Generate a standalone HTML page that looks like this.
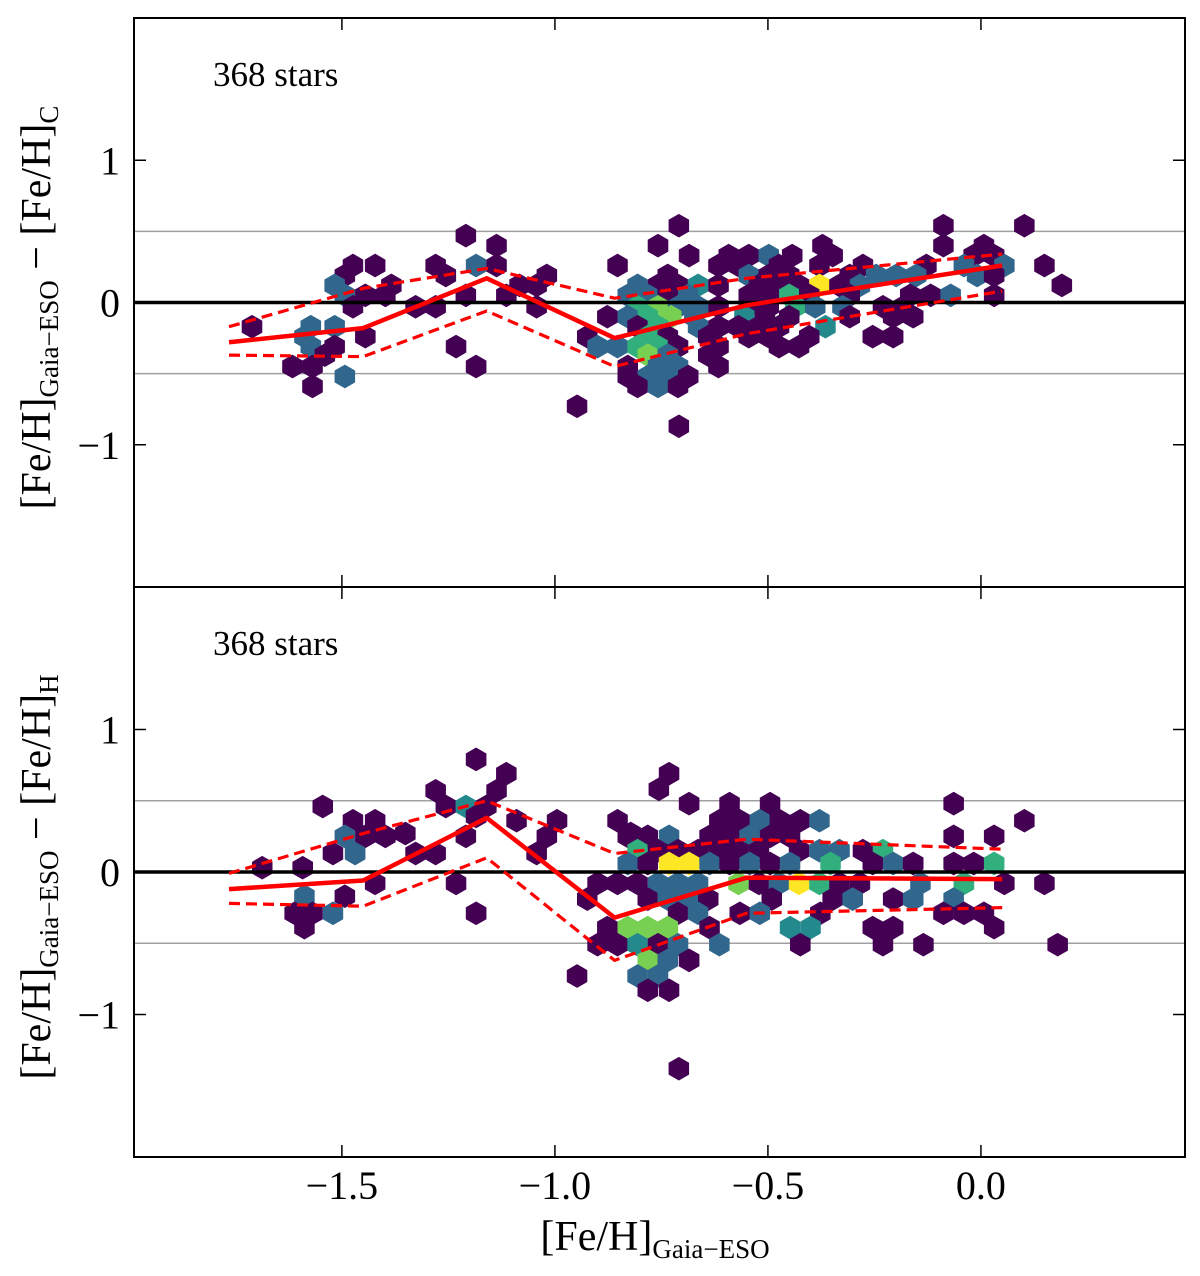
<!DOCTYPE html>
<html><head><meta charset="utf-8">
<style>
html,body{margin:0;padding:0;background:#fff;}
svg{display:block;font-family:"Liberation Serif",serif;}
</style></head>
<body>
<svg id="chart" width="1200" height="1276" viewBox="0 0 1200 1276" xmlns="http://www.w3.org/2000/svg"></svg>
<script>
// ---------- data ----------
const xTicks = [-1.5, -1.0, -0.5, 0.0];
const xTickLabels = ["\u22121.5", "\u22121.0", "\u22120.5", "0.0"];
const yTicks = [1, 0, -1];
const yTickLabels = ["1", "0", "\u22121"];
const starCount = "368 stars";

// bin centres for running median lines
const binX = [-1.765, -1.45, -1.16, -0.86, -0.55, 0.05];
const topMedian = [-0.28, -0.18, 0.17, -0.25, -0.02, 0.26];
const topUpper  = [-0.17, 0.10, 0.24, 0.03, 0.17, 0.34];
const topLower  = [-0.37, -0.38, -0.06, -0.45, -0.22, 0.08];
const botMedian = [-0.12, -0.06, 0.38, -0.32, -0.04, -0.05];
const botUpper  = [-0.01, 0.27, 0.50, 0.13, 0.23, 0.16];
const botLower  = [-0.22, -0.24, 0.10, -0.62, -0.29, -0.25];

// hexbin cells, organised by rows (y), x values and counts
const topRowY = [0.54,0.47,0.40,0.33,0.26,0.19,0.12,0.05,-0.03,-0.10,-0.17,-0.24,-0.31,-0.37,-0.45,-0.52,-0.59,-0.73,-0.87];
const topRowX = [
 [-0.709,-0.088,0.102],
 [-1.209],
 [-1.137,-0.758,-0.372,-0.088,0.007],
 [-0.685,-0.592,-0.545,-0.498,-0.443,-0.348,-0.017,0.031],
 [-1.474,-1.422,-1.280,-1.185,-1.137,-0.853,-0.616,-0.569,-0.474,-0.379,-0.277,-0.128,-0.040,0.055,0.149],
 [-1.493,-1.256,-1.019,-0.735,-0.545,-0.498,-0.450,-0.308,-0.246,-0.199,-0.152,-0.009,0.031],
 [-1.517,-1.384,-1.083,-1.043,-0.806,-0.758,-0.711,-0.664,-0.616,-0.521,-0.474,-0.427,-0.379,-0.332,-0.284,0.190],
 [-1.493,-1.445,-1.398,-1.209,-1.114,-0.829,-0.782,-0.735,-0.687,-0.545,-0.498,-0.450,-0.403,-0.308,-0.166,-0.118,-0.071,0.031],
 [-1.474,-1.327,-1.280,-1.043,-0.806,-0.758,-0.711,-0.664,-0.616,-0.545,-0.498,-0.436,-0.389,-0.325,-0.230,-0.182],
 [-0.877,-0.829,-0.782,-0.727,-0.673,-0.555,-0.507,-0.450,-0.308,-0.206,-0.159],
 [-1.711,-1.573,-1.517,-0.806,-0.758,-0.664,-0.616,-0.569,-0.521,-0.474,-0.365],
 [-1.588,-1.445,-0.924,-0.782,-0.735,-0.640,-0.545,-0.498,-0.403,-0.254,-0.206],
 [-1.573,-1.517,-1.232,-0.900,-0.853,-0.806,-0.758,-0.711,-0.616,-0.474,-0.427],
 [-1.540,-0.782,-0.735,-0.640],
 [-1.616,-1.569,-1.185,-0.829,-0.758,-0.711,-0.616],
 [-1.493,-0.829,-0.782,-0.735,-0.687],
 [-1.569,-0.806,-0.758,-0.711],
 [-0.948],
 [-0.709]
];
const topRowC = [
 [1,1,1],
 [1],
 [1,1,1,1,1],
 [1,1,1,3,1,1,1,1],
 [1,1,1,3,1,1,1,1,1,1,1,1,3,3,1],
 [1,1,1,1,3,1,1,1,3,3,3,3,1],
 [3,1,1,1,3,1,1,4,1,1,1,1,7,1,3,1],
 [3,1,1,1,1,3,3,1,3,1,1,5,1,1,1,1,3,1],
 [1,1,1,1,5,6,3,3,1,1,1,5,3,3,1,1],
 [1,3,5,6,3,4,1,1,1,1,1],
 [1,3,3,1,5,3,1,1,1,1,4],
 [3,1,1,5,1,1,1,1,1,1,1],
 [3,1,1,3,3,5,5,1,1,1,1],
 [1,6,3,1],
 [1,1,1,1,3,3,1],
 [3,1,3,3,1],
 [1,1,3,1],
 [1],
 [1]
];

const botRowY = [0.79,0.69,0.58,0.57,0.48,0.46,0.39,0.36,0.27,0.25,0.15,0.13,0.06,0.03,-0.08,-0.17,-0.19,-0.29,-0.39,-0.51,-0.62,-0.73,-0.83,-1.38];
const botRowX = [
 [-1.185],
 [-1.114,-0.732],
 [-0.756],
 [-1.280,-1.137],
 [-0.685,-0.590,-0.495,-0.064],
 [-1.545,-1.256,-1.209,-1.161],
 [-1.185],
 [-1.474,-1.422,-1.090,-0.995,-0.853,-0.614,-0.566,-0.519,-0.472,-0.424,-0.379,0.102],
 [-1.351,-0.822],
 [-1.493,-1.445,-1.398,-1.209,-1.019,-0.829,-0.782,-0.732,-0.637,-0.590,-0.543,-0.495,-0.448,-0.064,0.031],
 [-0.806,-0.758,-0.711,-0.664,-0.616,-0.569,-0.521,-0.427,-0.379,-0.332,-0.277,-0.230],
 [-1.521,-1.469,-1.327,-1.280,-1.043],
 [-0.829,-0.782,-0.732,-0.685,-0.637,-0.590,-0.543,-0.495,-0.448,-0.353,-0.254,-0.206,-0.159,-0.064,-0.017,0.031],
 [-1.687,-1.592],
 [-1.422,-1.232,-0.900,-0.853,-0.806,-0.758,-0.711,-0.664,-0.569,-0.521,-0.474,-0.427,-0.379,-0.332,-0.284,-0.142,-0.040,0.055,0.149],
 [-1.588,-1.493],
 [-0.924,-0.782,-0.735,-0.687,-0.640,-0.491,-0.348,-0.301,-0.206,-0.159,-0.064],
 [-1.611,-1.569,-1.521,-1.185,-0.711,-0.664,-0.566,-0.519,-0.377,-0.088,-0.040,0.007],
 [-1.588,-0.877,-0.829,-0.782,-0.735,-0.637,-0.448,-0.400,-0.254,-0.206,0.031],
 [-0.900,-0.853,-0.806,-0.758,-0.711,-0.614,-0.424,-0.230,-0.135,0.180],
 [-0.782,-0.735,-0.685],
 [-0.948,-0.806,-0.758],
 [-0.782,-0.732],
 [-0.709]
];
const botRowC = [
 [1],
 [1,1],
 [1],
 [1,1],
 [1,1,1,1],
 [1,1,4,1],
 [1],
 [1,1,1,1,1,1,1,3,1,1,3,1],
 [1,1],
 [3,1,1,1,1,1,1,3,1,1,3,1,1,1,1],
 [5,1,1,1,1,1,1,1,3,3,1,5],
 [1,3,1,1,1],
 [3,1,7,7,3,1,3,1,3,5,1,3,1,1,1,5],
 [1,1],
 [1,1,1,1,1,3,3,3,6,1,3,7,5,1,1,3,5,1,1],
 [3,1],
 [1,1,3,3,1,1,1,3,1,3,3],
 [1,1,3,1,1,3,1,3,1,1,1,1],
 [1,1,6,6,6,1,4,4,1,1,1],
 [1,1,4,1,3,3,1,1,1,1],
 [6,3,1],
 [1,3,3],
 [1,1],
 [1]
];

// ---------- layout / scales ----------
const NS = "http://www.w3.org/2000/svg";
const svg = document.getElementById("chart");
const L = 134, R = 1185;
const xMin = -1.988, xMax = 0.479;
const panels = [
  {name:"top", top:18, bottom:587, rowY:topRowY, rowX:topRowX, rowC:topRowC, med:topMedian, up:topUpper, lo:topLower, sub:"C"},
  {name:"bottom", top:587, bottom:1157, rowY:botRowY, rowX:botRowX, rowC:botRowC, med:botMedian, up:botUpper, lo:botLower, sub:"H"}
];
function xs(v){ return L + (v - xMin) / (xMax - xMin) * (R - L); }
function makeY(p){ return v => p.top + (2 - v) / 4 * (p.bottom - p.top); }

function el(tag, attrs, parent){
  const e = document.createElementNS(NS, tag);
  for (const k in attrs) e.setAttribute(k, attrs[k]);
  (parent || svg).appendChild(e);
  return e;
}
const vir = [[0,[68,1,84]],[0.25,[59,82,139]],[0.4,[42,120,142]],[0.55,[33,145,140]],[0.7,[53,183,121]],[0.82,[110,206,88]],[0.92,[181,222,43]],[1,[253,231,37]]];
function viridis(t){
  t = Math.max(0, Math.min(1, t));
  for (let i = 1; i < vir.length; i++){
    if (t <= vir[i][0]){
      const a = vir[i-1], b = vir[i], f = (t - a[0]) / (b[0] - a[0]);
      const c = a[1].map((v, k) => Math.round(v + (b[1][k] - v) * f));
      return "rgb(" + c.join(",") + ")";
    }
  }
  return "rgb(253,231,37)";
}
const vmin = 1, vmax = 7, hexR = 11.5;

panels.forEach(p => {
  const ys = makeY(p);
  const g = el("g", {});
  
  

  [0.5, -0.5].forEach(v => {
    const ln = el("line", {x1:L, x2:R, y1:ys(v), y2:ys(v), stroke:"#a0a0a0", "stroke-width":1.5}, g);
    
    
  });

  const hg = el("g", {}, g);
  
  
  p.rowY.forEach((yv, i) => {
    p.rowX[i].forEach((xv, j) => {
      const cx = xs(xv), cy = ys(yv), c = p.rowC[i][j];
      const pts = [];
      for (let k = 0; k < 6; k++){
        const a = Math.PI / 180 * (60 * k - 90);
        pts.push((cx + hexR * Math.cos(a)).toFixed(1) + "," + (cy + hexR * Math.sin(a)).toFixed(1));
      }
      const col = viridis((c - vmin) / (vmax - vmin));
      const h = el("polygon", {points:pts.join(" "), fill:col, stroke:col, "stroke-width":0.6}, hg);
      
      
    });
  });

  const z = el("line", {x1:L, x2:R, y1:ys(0), y2:ys(0), stroke:"#000", "stroke-width":3.5}, g);
  
  

  function poly(vals, dash, w, nm){
    const d = vals.map((v, i) => xs(binX[i]).toFixed(1) + "," + ys(v).toFixed(1)).join(" ");
    const a = {points:d, fill:"none", stroke:"#ff0000", "stroke-width":w, "stroke-linejoin":"round"};
    if (dash) a["stroke-dasharray"] = dash;
    const pl = el("polyline", a, g);
    
    
  }
  poly(p.up, "11,6", 3.2, 'upper-percentile-line');
  poly(p.lo, "11,6", 3.2, 'lower-percentile-line');
  poly(p.med, null, 4.5, 'median-line');

  const fr = el("rect", {x:L, y:p.top, width:R - L, height:p.bottom - p.top, fill:"none", stroke:"#000", "stroke-width":2}, g);
  
  

  xTicks.forEach(v => {
    const t1 = el("line", {x1:xs(v), x2:xs(v), y1:p.bottom, y2:p.bottom - 12, stroke:"#000", "stroke-width":1.5}, g);
    
    
    const t2 = el("line", {x1:xs(v), x2:xs(v), y1:p.top, y2:p.top + 12, stroke:"#000", "stroke-width":1.5}, g);
    
    
  });
  yTicks.forEach((v, i) => {
    const t1 = el("line", {x1:L, x2:L + 12, y1:ys(v), y2:ys(v), stroke:"#000", "stroke-width":1.5}, g);
    
    
    const t2 = el("line", {x1:R, x2:R - 12, y1:ys(v), y2:ys(v), stroke:"#000", "stroke-width":1.5}, g);
    
    
    const tl = el("text", {x:L - 14, y:ys(v) + 14, "text-anchor":"end", "font-size":40, fill:"#000"}, g);
    tl.textContent = yTickLabels[i];
    
    
  });

  const an = el("text", {x:213, y:p.top + 68, "font-size":35, fill:"#000"}, g);
  an.textContent = starCount;
  
  

  const yt = el("text", {transform:"translate(50," + ((p.top + p.bottom) / 2 + 5) + ") rotate(-90)", "text-anchor":"middle", "font-size":42, fill:"#000"}, g);
  
  
  const s1 = el("tspan", {}, yt); s1.textContent = "[Fe/H]";
  const s2 = el("tspan", {"font-size":27, dy:8}, yt); s2.textContent = "Gaia\u2212ESO";
  const s3 = el("tspan", {dy:-8}, yt); s3.textContent = " \u2212 [Fe/H]";
  const s4 = el("tspan", {"font-size":27, dy:8}, yt); s4.textContent = p.sub;
});

xTicks.forEach((v, i) => {
  const t = el("text", {x:xs(v), y:1199, "text-anchor":"middle", "font-size":40, fill:"#000"});
  t.textContent = xTickLabels[i];
  
  
});
const xt = el("text", {x:655, y:1250, "text-anchor":"middle", "font-size":42, fill:"#000"});


const xa = el("tspan", {}, xt); xa.textContent = "[Fe/H]";
const xb = el("tspan", {"font-size":27, dy:8}, xt); xb.textContent = "Gaia\u2212ESO";
</script>
</body></html>
